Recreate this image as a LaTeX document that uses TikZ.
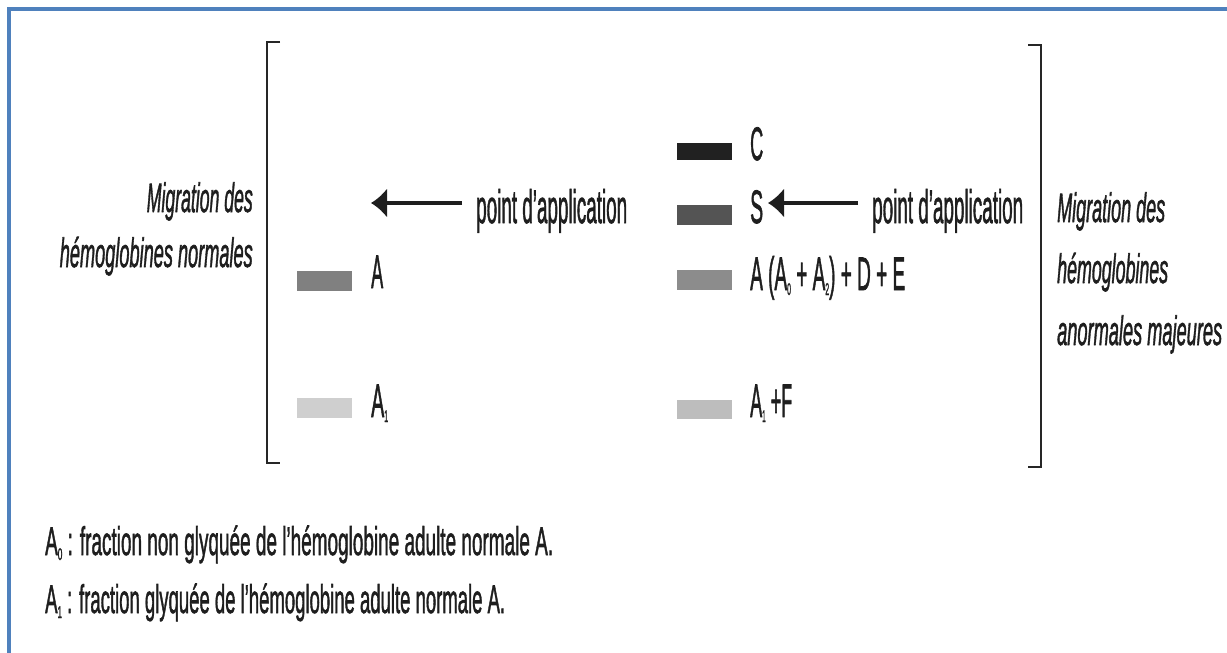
\documentclass[tikz,border=0pt]{standalone}
\usepackage{fontspec}
\setmainfont{Liberation Sans}[FakeBold=1.8]
\usepackage{graphicx}
\usetikzlibrary{arrows.meta,calc}
\definecolor{frameblue}{HTML}{4F81BD}
\definecolor{inkc}{HTML}{1E1E1E}
\newcommand{\fitw}[2]{\resizebox{#1}{\height}{#2}}
\newcommand{\lab}{\fontsize{47}{50}\selectfont}
\newcommand{\itl}{\fontsize{41}{44}\selectfont\itshape}
\newcommand{\fnt}{\fontsize{40}{44}\selectfont}
\newcommand{\sbs}[1]{\raisebox{-5pt}{\fontsize{17}{17}\selectfont #1}}
\begin{document}
\begin{tikzpicture}[x=1pt,y=-1pt,
  txt/.style={inner sep=0pt, anchor=base west, text=inkc},
  band/.style={minimum width=55pt, minimum height=20pt, inner sep=0pt, draw=none},
  bracket/.style={line width=1.5pt, black!85},
  arr/.style={line width=3.2pt, inkc, -{Latex[length=16pt,width=30pt]}},
  frame/.style={line width=4pt, frameblue, line join=miter}]
\useasboundingbox (0,0) rectangle (1227,653);
\draw[frame] (9,653) -- (9,9) -- (1227,9);
% brackets
\draw[bracket] (280,42) -- (267,42) -- (267,463) -- (280,463);
\draw[bracket] (1028,45) -- (1041,45) -- (1041,467) -- (1028,467);
% left side texts
\node[txt, anchor=base east] (lm1) at (253,212) {\itl\fitw{106pt}{Migration des}};
\node[txt, anchor=base east] (lm2) at (253,267) {\itl\fitw{193pt}{hémoglobines normales}};
% right side texts
\node[txt] (rm1) at (1057,222) {\itl\fitw{108pt}{Migration des}};
\node[txt] (rm2) at (1057,283) {\itl\fitw{111pt}{hémoglobines}};
\node[txt] (rm3) at (1057,345) {\itl\fitw{165pt}{anormales majeures}};
% left bands
\node[band, fill=black!50] (bA) at (324.5,280.5) {};
\node[band, fill=black!19] (bA1) at (324.5,408) {};
\node[txt] (lA) at (371,288) {\lab\fitw{12pt}{A}};
\node[txt] (lA1) at (371,417) {\lab\fitw{17pt}{A\sbs{1}}};
% right bands
\node[band, minimum height=17pt, fill=black!87] (bC) at (704.5,151.5) {};
\node[band, fill=black!67] (bS) at (704.5,215) {};
\node[band, fill=black!45] (bAr) at (704.5,280) {};
\node[band, minimum height=19pt, fill=black!26] (bAF) at (704.5,409) {};
\node[txt] (lC) at (750,160) {\lab\fitw{13pt}{C}};
\node[txt] (lS) at (750,223) {\lab\fitw{13pt}{S}};
\node[txt] (lAr) at (750,290) {\lab\fitw{155pt}{A (A\sbs{0} + A\sbs{2}) + D + E}};
\node[txt] (lAF) at (750,417) {\lab\fitw{42pt}{A\sbs{1} +F}};
% arrows
\node[txt] (pa1) at (476,223) {\lab\fitw{151pt}{point d’application}};
\node[txt] (pa2) at (872,223) {\lab\fitw{151pt}{point d’application}};
\coordinate (tipL) at (371,203);
\coordinate (tipR) at (768,203);
\draw[arr] ($(pa1.west |- tipL)+(-14,0)$) -- (tipL);
\draw[arr] ($(pa2.west |- tipR)+(-14,0)$) -- (tipR);
% footnotes
\node[txt] (fn1) at (45,555) {\fnt\fitw{508pt}{A\sbs{0} : fraction non glyquée de l’hémoglobine adulte normale A.}};
\node[txt] (fn2) at (45,613) {\fnt\fitw{460pt}{A\sbs{1} : fraction glyquée de l’hémoglobine adulte normale A.}};
\end{tikzpicture}
\end{document}
